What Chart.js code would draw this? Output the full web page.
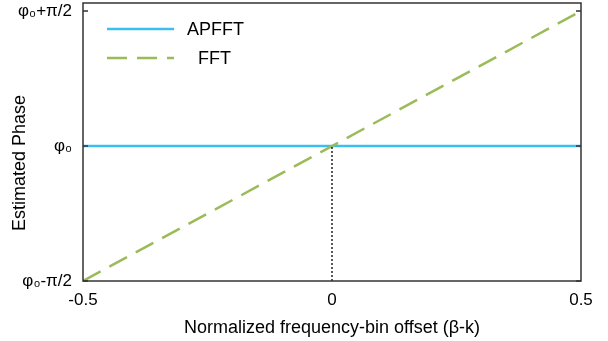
<!DOCTYPE html>
<html>
<head>
<meta charset="utf-8">
<script src="https://cdn.jsdelivr.net/npm/chart.js@4"></script>
<style>
  html, body { margin: 0; padding: 0; background: #fff; }
  #wrap { width: 608px; height: 341px; }
</style>
</head>
<body>
<div id="wrap"><canvas id="phase-chart"></canvas></div>
<script>
// offsets (beta-k) at the two ends of the range
var xVals = [-0.5, 0.5];
// estimated phase, in units of pi/2 relative to phi0
var apfft = [0, 0];
var fft = [-1, 1];
// dotted guide at zero offset
var guideX = [0, 0];
var guideY = [-1, 0];

var xTicks = [-0.5, 0, 0.5];
var xTickLabels = ['-0.5', '0', '0.5'];
var yTicks = [-1, 0, 1];
var yTickLabels = ['\u03c6\u2080-\u03c0/2', '\u03c6\u2080', '\u03c6\u2080+\u03c0/2'];

var fontFam = '"Liberation Sans", Arial, sans-serif';

// frame, inward ticks, y title and the legend in the top-left corner
var framePlugin = {
  id: 'frame',
  afterDatasetsDraw: function(chart) {
    var ctx = chart.ctx, a = chart.chartArea;
    var ys = chart.scales.y;
    ctx.save();
    ctx.strokeStyle = '#333';
    ctx.lineWidth = 1.5;
    ctx.strokeRect(a.left, a.top, a.right - a.left, a.bottom - a.top);
    ctx.beginPath();
    yTicks.forEach(function(v) {
      var py = ys.getPixelForValue(v);
      ctx.moveTo(a.left, py); ctx.lineTo(a.left + 5, py);
      ctx.moveTo(a.right, py); ctx.lineTo(a.right - 5, py);
    });
    ctx.stroke();

    ctx.font = '18px ' + fontFam;
    ctx.fillStyle = '#000';

    // y axis title
    ctx.save();
    ctx.translate(20, 163);
    ctx.rotate(-Math.PI / 2);
    ctx.textAlign = 'center';
    ctx.textBaseline = 'middle';
    ctx.fillText('Estimated Phase', 0, 0);
    ctx.restore();

    // legend
    var items = [
      { label: 'APFFT', color: '#3dbef0', dash: [], y: 29, tx: 187 },
      { label: 'FFT', color: '#9bbb59', dash: [20, 10], y: 58, tx: 198 }
    ];
    ctx.textBaseline = 'middle';
    items.forEach(function(it) {
      ctx.beginPath();
      ctx.setLineDash(it.dash);
      ctx.strokeStyle = it.color;
      ctx.lineWidth = 2.5;
      ctx.moveTo(107, it.y);
      ctx.lineTo(174, it.y);
      ctx.stroke();
      ctx.setLineDash([]);
      ctx.fillText(it.label, it.tx, it.y + 1);
    });
    ctx.restore();
  }
};

var ctx = document.getElementById('phase-chart').getContext('2d');
var chart = new Chart(ctx, {
  type: 'line',
  data: {
    datasets: [
      {
        label: 'guide',
        data: guideX.map(function(x, i) { return { x: x, y: guideY[i] }; }),
        borderColor: '#000',
        borderWidth: 1.3,
        borderDash: [2, 2],
        pointRadius: 0
      },
      {
        label: 'FFT',
        data: xVals.map(function(x, i) { return { x: x, y: fft[i] }; }),
        borderColor: '#9bbb59',
        borderWidth: 2.5,
        borderDash: [20, 10],
        pointRadius: 0
      },
      {
        label: 'APFFT',
        data: xVals.map(function(x, i) { return { x: x, y: apfft[i] }; }),
        borderColor: '#3dbef0',
        borderWidth: 2.5,
        pointRadius: 0
      }
    ]
  },
  options: {
    responsive: true,
    maintainAspectRatio: false,
    animation: false,
    layout: { padding: { left: 0, right: 27, top: 3, bottom: 0 } },
    plugins: { legend: { display: false }, tooltip: { enabled: false } },
    scales: {
      x: {
        type: 'linear',
        min: -0.5,
        max: 0.5,
        afterBuildTicks: function(s) { s.ticks = xTicks.map(function(v) { return { value: v }; }); },
        afterFit: function(s) { s.height = 60; s.paddingLeft = 0; s.paddingRight = 0; },
        grid: { display: false },
        border: { display: false },
        ticks: {
          color: '#000',
          font: { size: 17, family: fontFam },
          padding: 1,
          maxRotation: 0,
          callback: function(v) { return xTickLabels[xTicks.indexOf(v)]; }
        },
        title: {
          display: true,
          text: 'Normalized frequency-bin offset (\u03b2-k)',
          color: '#000',
          font: { size: 18, family: fontFam },
          padding: { top: 0, bottom: 2 }
        }
      },
      y: {
        type: 'linear',
        min: -1,
        max: 1.06,
        afterBuildTicks: function(s) { s.ticks = yTicks.map(function(v) { return { value: v }; }); },
        afterFit: function(s) { s.width = 83; s.paddingTop = 0; s.paddingBottom = 0; },
        grid: { display: false },
        border: { display: false },
        ticks: {
          color: '#000',
          font: { size: 17, family: fontFam },
          padding: 3,
          callback: function(v) { return yTickLabels[yTicks.indexOf(v)]; }
        }
      }
    }
  },
  plugins: [framePlugin]
});
</script>
</body>
</html>
